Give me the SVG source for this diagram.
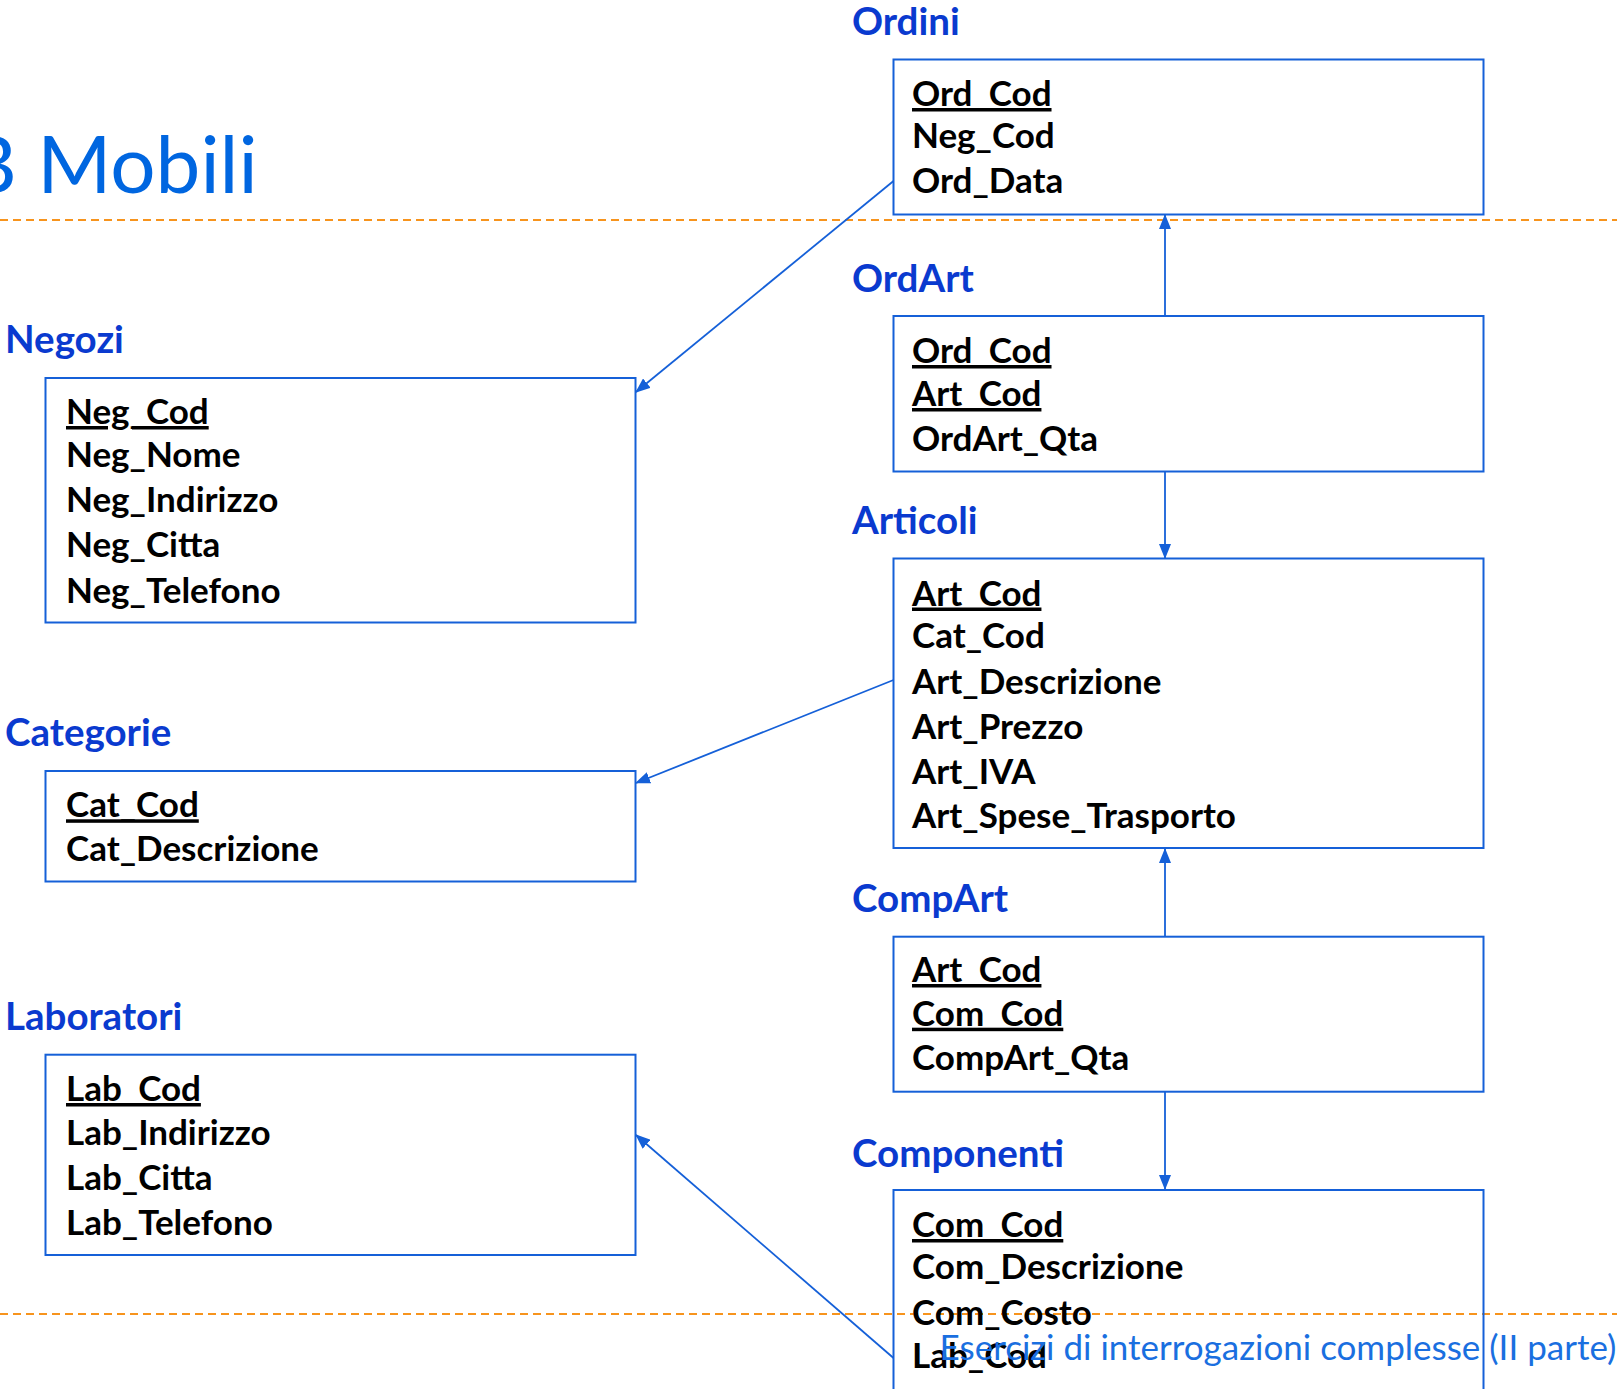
<svg xmlns="http://www.w3.org/2000/svg" width="1617" height="1389" viewBox="0 0 1617 1389">
<style>
.bg{fill:#ffffff}
.sep{stroke:#F7941D;stroke-width:2;stroke-dasharray:8 5;fill:none}
.box{fill:none;stroke:#1560D8;stroke-width:2}
.lbl{font-family:Lato,'Liberation Sans',sans-serif;font-weight:bold;font-size:38.5px;fill:#0A3ACF}
.att{font-family:Lato,'Liberation Sans',sans-serif;font-weight:bold;font-size:35px;fill:#000000}
.key{text-decoration:underline}
.title{font-family:Lato,'Liberation Sans',sans-serif;font-size:80px;fill:#0066E0}
.foot{font-family:Lato,'Liberation Sans',sans-serif;font-size:35px;fill:#1A6FE0}
.con{stroke:#1560D8;stroke-width:1.8;fill:none}
</style>
<defs>
<marker id="arr" markerUnits="userSpaceOnUse" markerWidth="15" markerHeight="12" refX="14" refY="6" orient="auto">
<path d="M0,0 L15,6 L0,12 z" fill="#1560D8"/>
</marker>
</defs>
<rect class="bg" x="0" y="0" width="1617" height="1389"/>
<text class="title" x="-35" y="193">B Mobili</text>
<line class="sep" x1="0" y1="220" x2="1617" y2="220"/>
<line class="sep" x1="0" y1="1314" x2="1617" y2="1314"/>

<g id="connectors">
<line class="con" x1="893.5" y1="181" x2="636" y2="392" marker-end="url(#arr)"/>
<line class="con" x1="1165" y1="316" x2="1165" y2="215" marker-end="url(#arr)"/>
<line class="con" x1="1165" y1="471.5" x2="1165" y2="558" marker-end="url(#arr)"/>
<line class="con" x1="893.5" y1="680" x2="636" y2="783" marker-end="url(#arr)"/>
<line class="con" x1="1165" y1="936.7" x2="1165" y2="849" marker-end="url(#arr)"/>
<line class="con" x1="1165" y1="1092" x2="1165" y2="1189" marker-end="url(#arr)"/>
<line class="con" x1="893.5" y1="1358" x2="636" y2="1135" marker-end="url(#arr)"/>
</g>

<g id="ordini">
<text class="lbl" x="852" y="35">Ordini</text>
<rect class="box" x="893.5" y="59.5" width="590" height="155"/>
<text class="att key" x="912" y="106">Ord_Cod</text>
<text class="att" x="912" y="148">Neg_Cod</text>
<text class="att" x="912" y="193">Ord_Data</text>
</g>

<g id="ordart">
<text class="lbl" x="852" y="292">OrdArt</text>
<rect class="box" x="893.5" y="316" width="590" height="155.5"/>
<text class="att key" x="912" y="363">Ord_Cod</text>
<text class="att key" x="912" y="406">Art_Cod</text>
<text class="att" x="912" y="451">OrdArt_Qta</text>
</g>

<g id="articoli">
<text class="lbl" x="852" y="534">Articoli</text>
<rect class="box" x="893.5" y="558.5" width="590" height="289.5"/>
<text class="att key" x="912" y="605.5">Art_Cod</text>
<text class="att" x="912" y="648">Cat_Cod</text>
<text class="att" x="912" y="693.5">Art_Descrizione</text>
<text class="att" x="912" y="739">Art_Prezzo</text>
<text class="att" x="912" y="784">Art_IVA</text>
<text class="att" x="912" y="828">Art_Spese_Trasporto</text>
</g>

<g id="compart">
<text class="lbl" x="852" y="912">CompArt</text>
<rect class="box" x="893.5" y="936.7" width="590" height="155"/>
<text class="att key" x="912" y="982">Art_Cod</text>
<text class="att key" x="912" y="1025.7">Com_Cod</text>
<text class="att" x="912" y="1070">CompArt_Qta</text>
</g>

<g id="componenti">
<text class="lbl" x="852" y="1167">Componenti</text>
<rect class="box" x="893.5" y="1190" width="590" height="220"/>
<text class="att key" x="912" y="1237">Com_Cod</text>
<text class="att" x="912" y="1279">Com_Descrizione</text>
<text class="att" x="912" y="1325">Com_Costo</text>
<text class="att" x="912" y="1368">Lab_Cod</text>
</g>

<g id="negozi">
<text class="lbl" x="5" y="353">Negozi</text>
<rect class="box" x="45.5" y="378" width="590" height="244.5"/>
<text class="att key" x="66" y="424">Neg_Cod</text>
<text class="att" x="66" y="466.5">Neg_Nome</text>
<text class="att" x="66" y="512">Neg_Indirizzo</text>
<text class="att" x="66" y="557">Neg_Citta</text>
<text class="att" x="66" y="602.7">Neg_Telefono</text>
</g>

<g id="categorie">
<text class="lbl" x="5" y="746">Categorie</text>
<rect class="box" x="45.5" y="771" width="590" height="110.5"/>
<text class="att key" x="66" y="817.3">Cat_Cod</text>
<text class="att" x="66" y="860.7">Cat_Descrizione</text>
</g>

<g id="laboratori">
<text class="lbl" x="5" y="1030">Laboratori</text>
<rect class="box" x="45.5" y="1054.7" width="590" height="200.3"/>
<text class="att key" x="66" y="1101">Lab_Cod</text>
<text class="att" x="66" y="1144.5">Lab_Indirizzo</text>
<text class="att" x="66" y="1190">Lab_Citta</text>
<text class="att" x="66" y="1235">Lab_Telefono</text>
</g>

<text class="foot" x="939.6" y="1360">Esercizi di interrogazioni complesse (II parte)</text>
</svg>
